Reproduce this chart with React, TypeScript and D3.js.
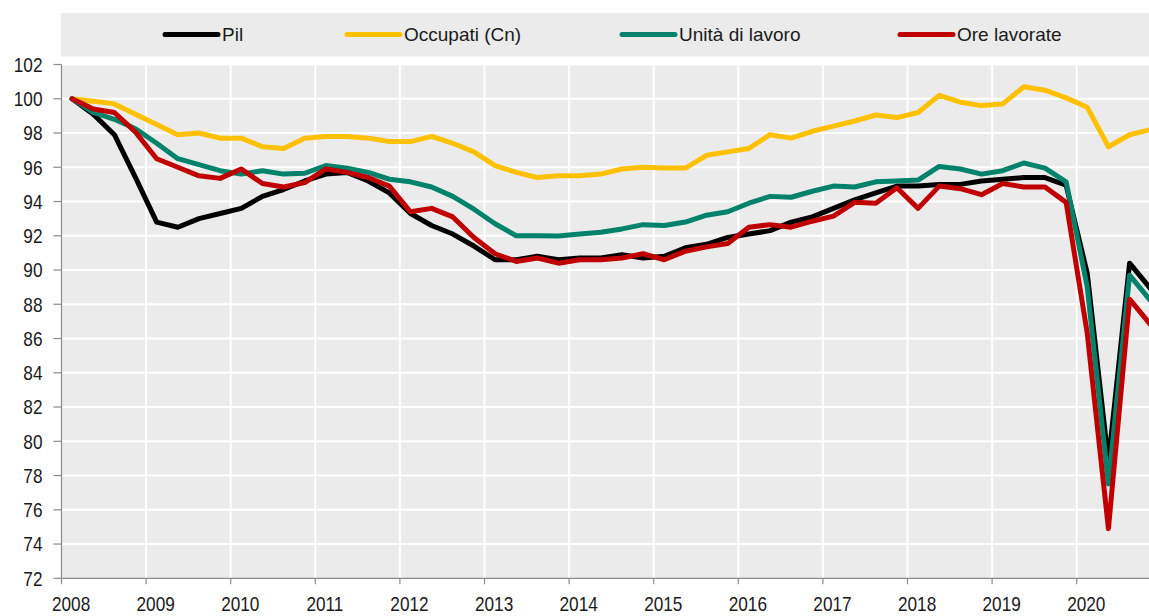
import React, { useEffect, useRef } from "react";
import * as d3 from "d3";

const years = [2008, 2009, 2010, 2011, 2012, 2013, 2014, 2015, 2016, 2017, 2018, 2019, 2020];
const yTicks = [72, 74, 76, 78, 80, 82, 84, 86, 88, 90, 92, 94, 96, 98, 100, 102];

const pil = [100, 99.1, 97.9, 95.4, 92.8, 92.5, 93.0, 93.3, 93.6, 94.3, 94.7, 95.2,
  95.6, 95.7, 95.2, 94.5, 93.3, 92.6, 92.1, 91.4, 90.6, 90.6, 90.8, 90.6,
  90.7, 90.7, 90.9, 90.7, 90.8, 91.3, 91.5, 91.9, 92.1, 92.3, 92.8, 93.1,
  93.6, 94.1, 94.5, 94.9, 94.9, 95.0, 95.0, 95.2, 95.3, 95.4, 95.4, 94.95,
  89.8, 78.8, 90.4, 88.9];
const occupati = [100, 99.85, 99.7, 99.1, 98.5, 97.9, 98.0, 97.7, 97.7, 97.2, 97.1, 97.7,
  97.8, 97.8, 97.7, 97.5, 97.5, 97.8, 97.4, 96.9, 96.1, 95.7, 95.4, 95.5,
  95.5, 95.6, 95.9, 96.0, 95.95, 95.95, 96.7, 96.9, 97.1, 97.9, 97.7, 98.1,
  98.4, 98.7, 99.05, 98.9, 99.2, 100.2, 99.8, 99.6, 99.7, 100.7, 100.5, 100.05,
  99.5, 97.2, 97.9, 98.2];
const unita = [100, 99.2, 98.8, 98.25, 97.4, 96.5, 96.15, 95.8, 95.6, 95.8, 95.6, 95.65,
  96.1, 95.95, 95.7, 95.3, 95.15, 94.85, 94.3, 93.55, 92.7, 92.0, 92.0, 91.98,
  92.1, 92.2, 92.4, 92.65, 92.6, 92.8, 93.2, 93.4, 93.9, 94.3, 94.25, 94.6,
  94.9, 94.85, 95.15, 95.2, 95.25, 96.05, 95.9, 95.6, 95.8, 96.25, 95.95, 95.15,
  89.0, 77.5, 89.7, 88.2];
const ore = [100, 99.4, 99.2, 98.05, 96.5, 96.0, 95.5, 95.35, 95.9, 95.05, 94.85, 95.1,
  95.9, 95.7, 95.4, 94.9, 93.4, 93.6, 93.1, 91.9, 90.95, 90.5, 90.7, 90.4,
  90.6, 90.6, 90.7, 90.95, 90.6, 91.1, 91.35, 91.55, 92.5, 92.65, 92.5, 92.85,
  93.15, 93.95, 93.9, 94.8, 93.6, 94.9, 94.75, 94.4, 95.05, 94.85, 94.85, 93.95,
  86.3, 74.9, 88.3, 86.8];

const seriesNames = ["Pil", "Occupati (Cn)", "Unità di lavoro", "Ore lavorate"];
const seriesValues = [pil, occupati, unita, ore];
const seriesColors = ["#000000", "#FFC000", "#00836A", "#C00000"];

const W = 1149;
const H = 616;

export default function App() {
  const ref = useRef<SVGSVGElement>(null);
  useEffect(() => {
    document.body.style.margin = "0";
    const svg = d3.select(ref.current);
    svg.selectAll("*").remove();

    const left = 61.5;
    const x = d3.scaleLinear().domain([2008, 2021]).range([left, left + 13 * 84.6]);
    const y = d3.scaleLinear().domain([72, 102]).range([578.3, 64.5]);
    const plotRight = x(2021);

    const bg = "#EBEBEB";
    svg.append("rect").attr("x", left - 0.5).attr("y", 13).attr("width", plotRight - left).attr("height", 43.5).attr("fill", bg);
    svg.append("rect").attr("x", left).attr("y", y(102)).attr("width", plotRight - left).attr("height", y(72) - y(102)).attr("fill", bg);

    svg.append("g").selectAll("line").data(yTicks.filter(d => d > 72)).join("line")
      .attr("x1", left).attr("x2", plotRight).attr("y1", d => y(d)).attr("y2", d => y(d))
      .attr("stroke", "#ffffff").attr("stroke-width", 2);
    svg.append("g").selectAll("line").data(years.slice(1).concat([2021])).join("line")
      .attr("x1", d => x(d)).attr("x2", d => x(d)).attr("y1", y(102)).attr("y2", y(72))
      .attr("stroke", "#ffffff").attr("stroke-width", 2);

    const axisColor = "#8C8C8C";
    svg.append("line").attr("x1", left).attr("x2", left).attr("y1", y(102)).attr("y2", y(72))
      .attr("stroke", axisColor).attr("stroke-width", 1.2);
    svg.append("line").attr("x1", left).attr("x2", plotRight).attr("y1", y(72)).attr("y2", y(72))
      .attr("stroke", axisColor).attr("stroke-width", 1.2);
    svg.append("g").selectAll("line").data(yTicks).join("line")
      .attr("x1", left - 8).attr("x2", left).attr("y1", d => y(d)).attr("y2", d => y(d))
      .attr("stroke", axisColor).attr("stroke-width", 1.2);
    svg.append("g").selectAll("line").data(years.concat([2021])).join("line")
      .attr("x1", d => x(d)).attr("x2", d => x(d)).attr("y1", y(72)).attr("y2", y(72) + 6)
      .attr("stroke", axisColor).attr("stroke-width", 1.2);

    const tickFont = "'Liberation Sans', Arial, sans-serif";
    const sx = 0.82;
    svg.append("g").selectAll("text").data(yTicks).join("text")
      .attr("transform", d => `translate(42.5,${y(d)}) scale(${sx},1)`)
      .attr("dy", "0.35em").attr("text-anchor", "end")
      .attr("font-family", tickFont).attr("font-size", 21).attr("fill", "#1a1a1a")
      .text(d => String(d));
    svg.append("g").selectAll("text").data(years).join("text")
      .attr("transform", d => `translate(${x(d + 0.125) - 1},604) scale(${sx},1)`)
      .attr("dy", "0.35em").attr("text-anchor", "middle")
      .attr("font-family", tickFont).attr("font-size", 21).attr("fill", "#1a1a1a")
      .text(d => String(d));

    const line = d3.line<number>()
      .x((_, i) => x(2008 + (i + 0.5) / 4))
      .y(d => y(d));
    seriesValues.forEach((vals, k) => {
      svg.append("path").datum(vals).attr("d", line)
        .attr("fill", "none").attr("stroke", seriesColors[k]).attr("stroke-width", 5)
        .attr("stroke-linejoin", "round").attr("stroke-linecap", "round");
    });

    const legendX = [165, 347, 622, 900];
    const ly = 34.5;
    seriesNames.forEach((name, k) => {
      svg.append("line").attr("x1", legendX[k]).attr("x2", legendX[k] + 53).attr("y1", ly).attr("y2", ly)
        .attr("stroke", seriesColors[k]).attr("stroke-width", 5).attr("stroke-linecap", "round");
      svg.append("text").attr("x", legendX[k] + 57).attr("y", ly).attr("dy", "0.35em")
        .attr("font-family", "'Liberation Sans', Arial, sans-serif").attr("font-size", 19).attr("fill", "#1a1a1a")
        .text(name);
    });
  }, []);
  return <svg ref={ref} width={W} height={H} style={{ display: "block", position: "absolute", left: 0, top: 0 }} />;
}
